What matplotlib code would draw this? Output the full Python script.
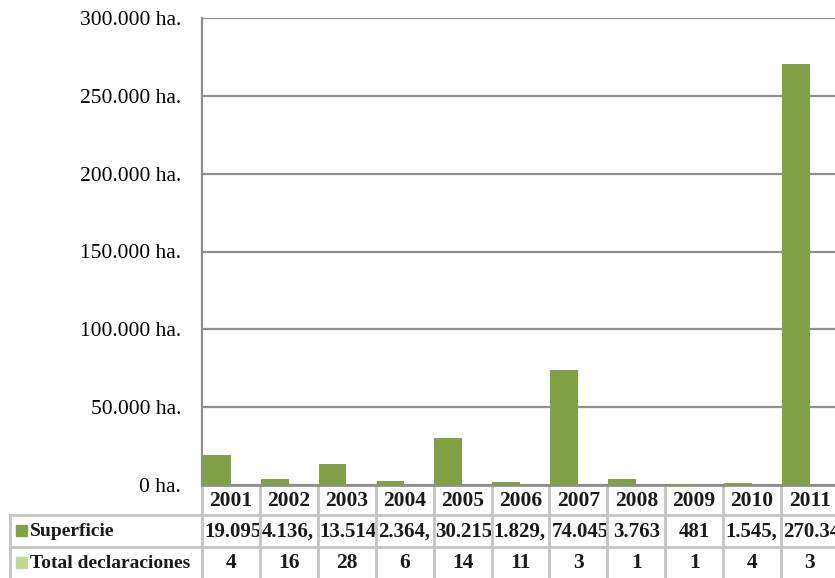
import matplotlib.pyplot as plt
from matplotlib.patches import Rectangle
from matplotlib.transforms import Bbox, TransformedBbox

# datos
years = ['2001', '2002', '2003', '2004', '2005', '2006', '2007', '2008', '2009', '2010', '2011']
superficie = [19095, 4136.5, 13514, 2364.5, 30215, 1829.5, 74045, 3763, 481, 1545.5, 270340]
declaraciones = [4, 16, 28, 6, 14, 11, 3, 1, 1, 4, 3]
yticks = [0, 50000, 100000, 150000, 200000, 250000, 300000]

c_sup = '#82A046'
c_dec = '#C3D69B'
c_grid = '#8E8E8E'
c_tab = '#C4C4C4'
serif = ['Liberation Serif', 'DejaVu Serif']


def fmt_es(v):
    # formato español: punto de miles, coma decimal
    if float(v).is_integer():
        return f'{v:,.0f}'.replace(',', '.')
    s = f'{v:,.1f}'
    return s.replace(',', '_').replace('.', ',').replace('_', '.')


W, H = 835, 578
fig = plt.figure(figsize=(W / 100, H / 100), dpi=100)
fig.patch.set_facecolor('white')

# zona del grafico en pixeles
x0, cw = 202, 57.9
ytop, ybot = 18, 485
n = len(years)
ax = fig.add_axes([x0 / W, 1 - ybot / H, n * cw / W, (ybot - ytop) / H])

xs = range(n)
ax.bar([x - 0.245 for x in xs], superficie, width=0.48, color=c_sup, zorder=3)
ax.bar([x + 0.245 for x in xs], declaraciones, width=0.48, color=c_dec, zorder=3)

ax.set_xlim(-0.5, n - 0.5)
ax.set_ylim(0, 300000)
ax.set_yticks(yticks)
ax.set_yticklabels([fmt_es(v) + ' ha.' for v in yticks], family=serif, fontsize=15.5)
ax.set_xticks([])
ax.tick_params(axis='y', length=0, pad=15)
ax.grid(axis='y', color=c_grid, linewidth=1.6, zorder=0)
for s in ['top', 'right']:
    ax.spines[s].set_visible(False)
ax.spines['left'].set_color(c_grid)
ax.spines['left'].set_linewidth(1.6)
ax.spines['bottom'].set_color(c_grid)
ax.spines['bottom'].set_linewidth(2)

# tabla de datos bajo el eje
tab = fig.add_axes([0, 0, 1, 1], zorder=-1)
tab.set_xlim(0, W)
tab.set_ylim(H, 0)
tab.axis('off')

r1, r2 = 515, 547
edges = [x0 + i * cw for i in range(n + 1)]
for e in edges:
    tab.plot([e, e], [ybot, H + 5], color=c_tab, lw=2)
tab.plot([10, 10], [r1, H + 5], color=c_tab, lw=2)
tab.plot([10, edges[-1]], [r1, r1], color=c_tab, lw=2)
tab.plot([10, edges[-1]], [r2, r2], color=c_tab, lw=2)

lfont = dict(family=serif, fontsize=14, fontweight='bold', color='#1a1a1a')
nfont = dict(lfont, fontsize=15.5)
vfont = dict(lfont, fontsize=15)
for i, y in enumerate(years):
    cx = edges[i] + cw / 2
    tab.text(cx, (ybot + r1) / 2 + 1, y, ha='center', va='center', **nfont)
    # la celda corta el texto largo, como en la tabla de datos de Excel
    lab = fmt_es(superficie[i])
    if len(lab) > 5:
        t = tab.text(edges[i] + 2, (r1 + r2) / 2 + 1, lab[:6], ha='left', va='center', **vfont)
    else:
        t = tab.text(cx, (r1 + r2) / 2 + 1, lab, ha='center', va='center', **vfont)
    t.set_clip_box(TransformedBbox(Bbox([[edges[i] + 1, r1], [edges[i + 1] - 1, r2]]), tab.transData))
    t.set_clip_on(True)
    tab.text(cx, (r2 + H) / 2 + 1, str(declaraciones[i]), ha='center', va='center', **nfont)

# claves de la leyenda
tab.add_patch(Rectangle((16, 525), 11, 11, color=c_sup))
tab.add_patch(Rectangle((16, 557), 11, 11, color=c_dec))
tab.text(30, (r1 + r2) / 2 + 1, 'Superficie', ha='left', va='center', **lfont)
tab.text(30, (r2 + H) / 2 + 1, 'Total declaraciones', ha='left', va='center', **lfont)

fig.savefig('out.png', dpi=100, facecolor='white')
